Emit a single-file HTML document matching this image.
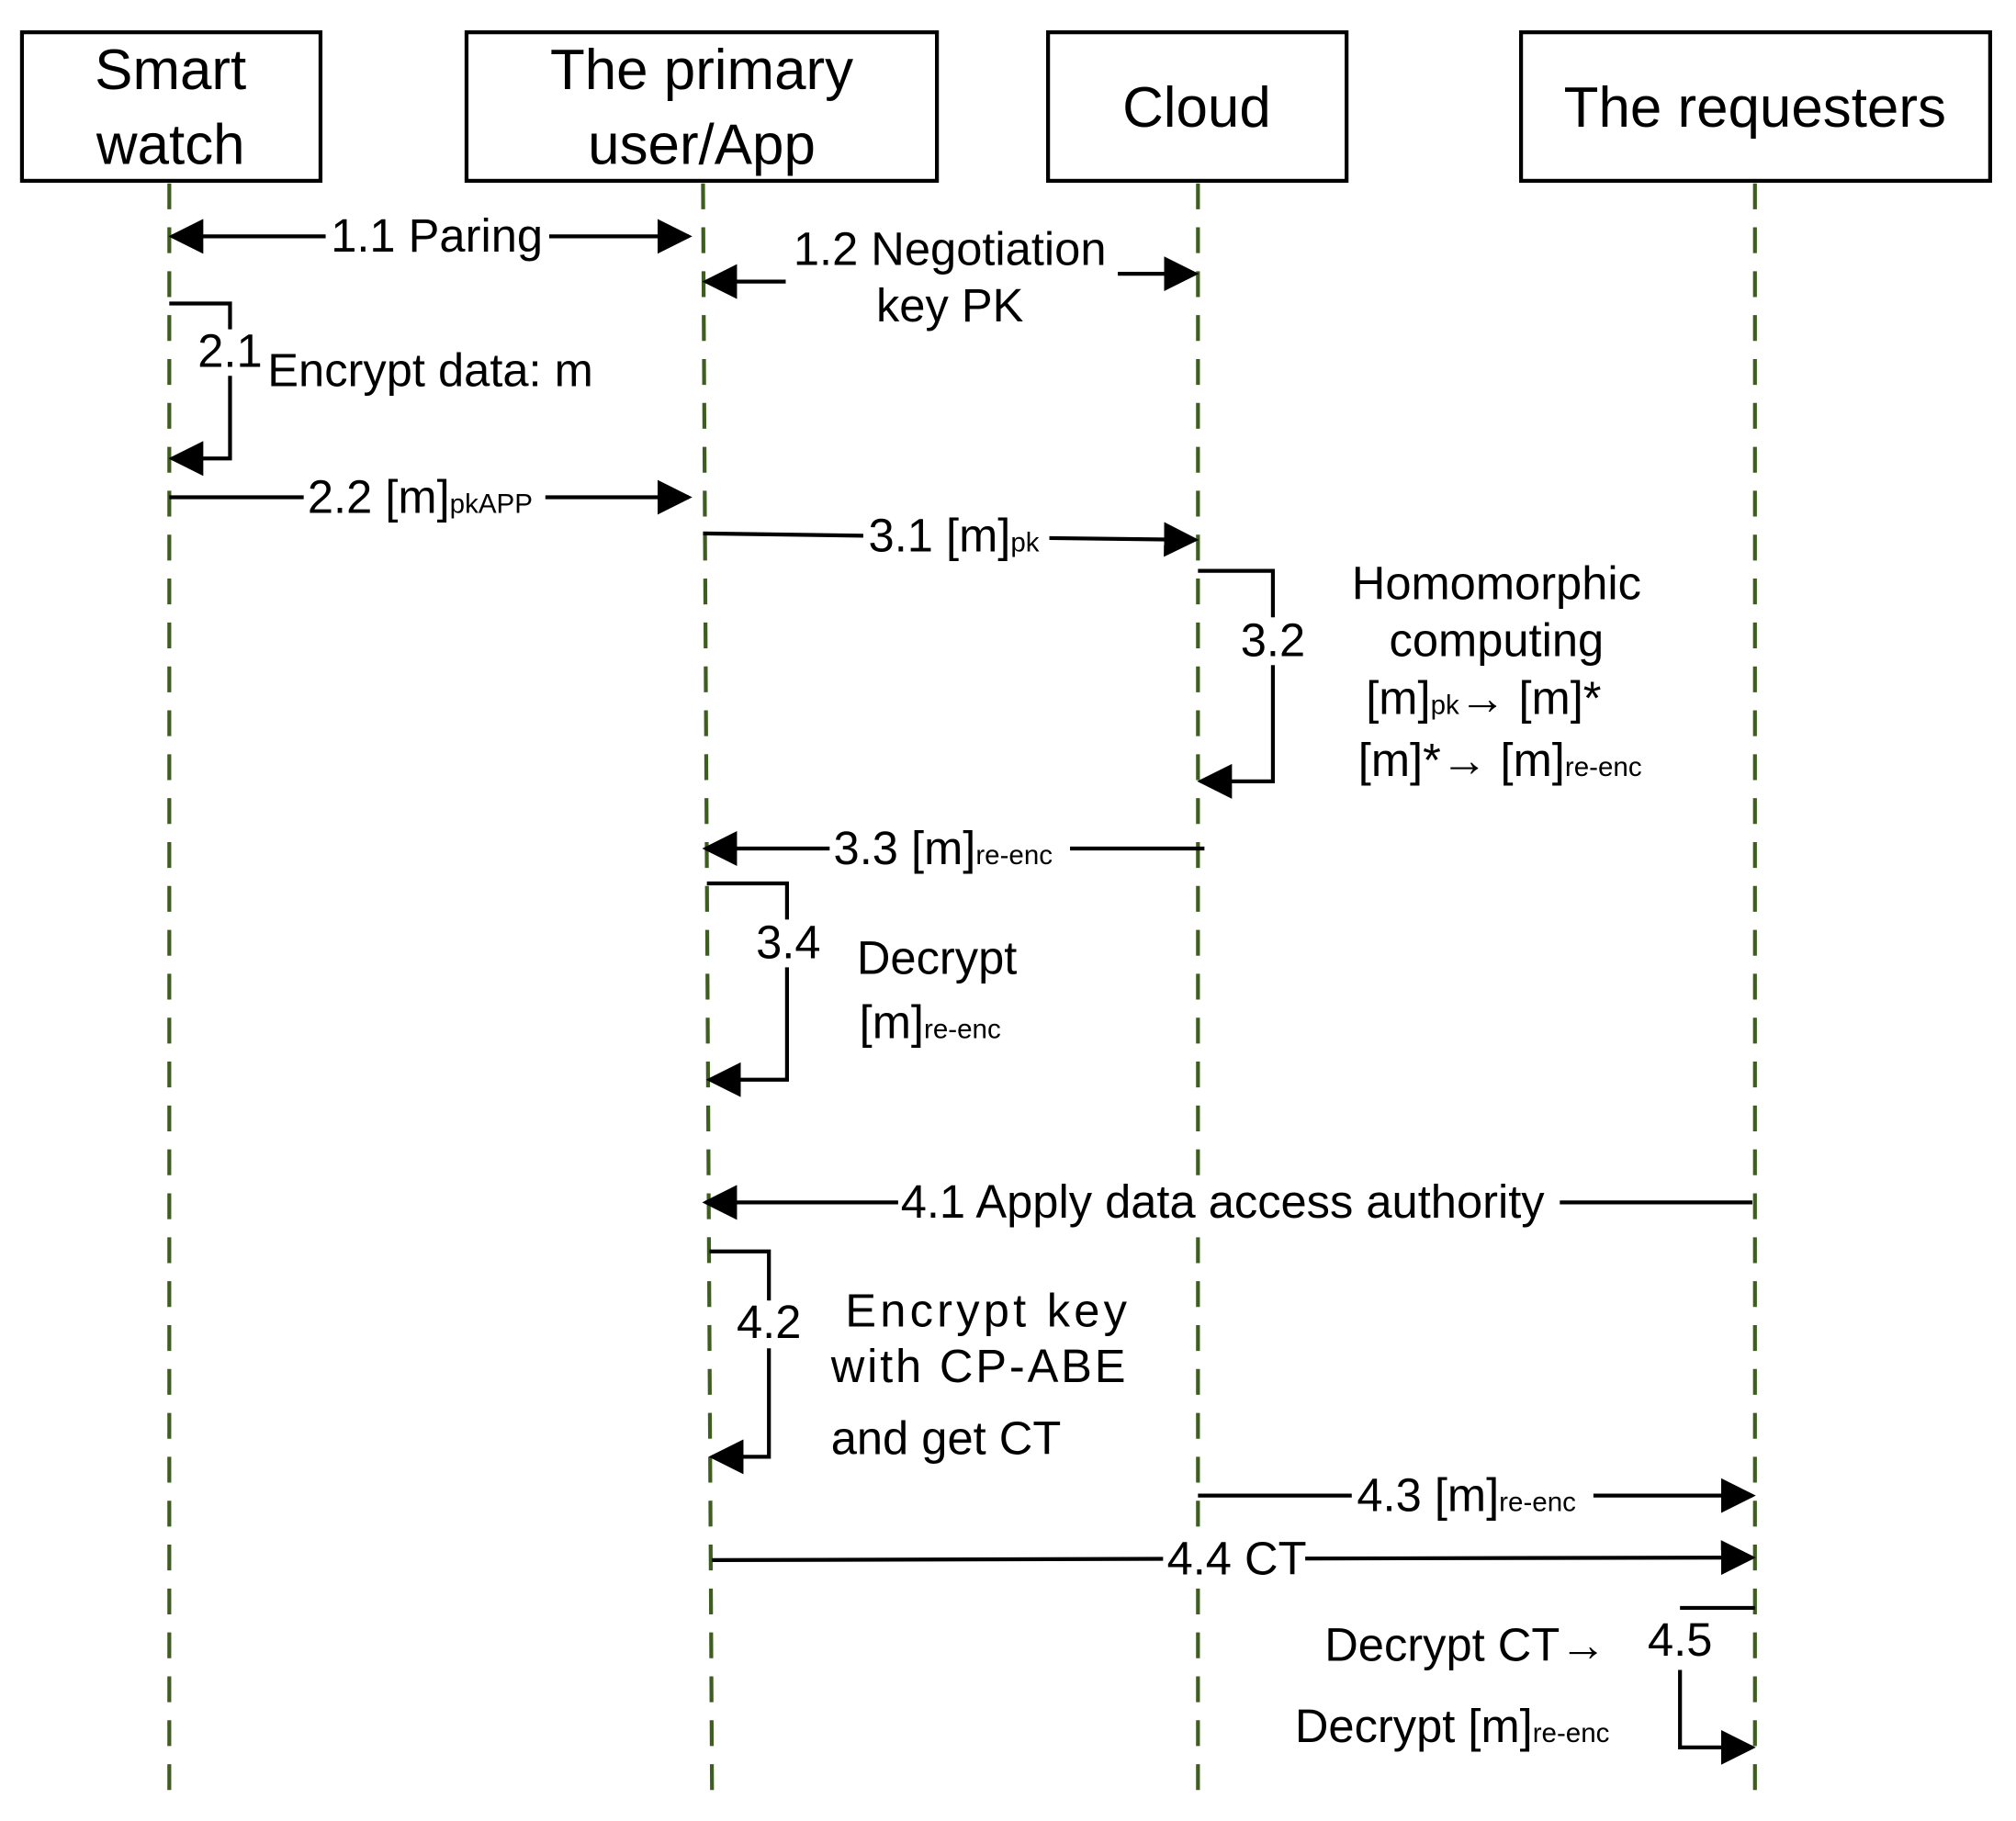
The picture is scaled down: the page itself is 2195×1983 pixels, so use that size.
<!DOCTYPE html>
<html><head><meta charset="utf-8"><style>
html,body{margin:0;padding:0;background:#fff}
svg{display:block}
text{font-family:"Liberation Sans",sans-serif;fill:#000}
</style></head><body>
<svg width="2195" height="1983" viewBox="0 0 1560 1410" preserveAspectRatio="none" xmlns="http://www.w3.org/2000/svg">
<defs>
<marker id="b" viewBox="0 0 10 10" refX="9" refY="5" markerWidth="9" markerHeight="9" orient="auto-start-reverse"><path d="M0,0 L10,5 L0,10 z" fill="#000"/></marker>
</defs>
<g fill="#fff" stroke="#000" stroke-width="3">
<rect x="17" y="25" width="231" height="115"/>
<rect x="361" y="25" width="364" height="115"/>
<rect x="811" y="25" width="231" height="115"/>
<rect x="1177" y="25" width="363" height="115"/>
</g>
<g font-size="44" text-anchor="middle">
<text x="132" y="69">Smart</text><text x="132" y="127">watch</text>
<text x="543" y="69">The primary</text><text x="543" y="127">user/App</text>
<text x="926" y="98">Cloud</text>
<text x="1358" y="98">The requesters</text>
</g>
<g stroke="#3d5e1f" stroke-width="3" stroke-dasharray="20 14" fill="none">
<line x1="131" y1="142" x2="131" y2="1392"/>
<path d="M544 142 L551 1392"/>
<line x1="927" y1="142" x2="927" y2="1392"/>
<line x1="1358" y1="142" x2="1358" y2="1392"/>
</g>
<g stroke="#000" stroke-width="3" fill="none">
<line x1="133" y1="183" x2="533" y2="183" marker-start="url(#b)" marker-end="url(#b)"/>
<line x1="546" y1="218" x2="608" y2="218" marker-start="url(#b)"/>
<line x1="865" y1="212" x2="925" y2="212" marker-end="url(#b)"/>
<polyline points="131,235 178,235 178,355 133,355" marker-end="url(#b)"/>
<line x1="131" y1="385" x2="533" y2="385" marker-end="url(#b)"/>
<polyline points="544,413 680,415 925,418" marker-end="url(#b)"/>
<polyline points="927,442 985,442 985,605 929,605" marker-end="url(#b)"/>
<line x1="932" y1="657" x2="546" y2="657" marker-end="url(#b)"/>
<polyline points="547,684 609,684 609,836 549,836" marker-end="url(#b)"/>
<line x1="1356" y1="931" x2="546" y2="931" marker-end="url(#b)"/>
<polyline points="549,969 595,969 595,1128 551,1128" marker-end="url(#b)"/>
<line x1="927" y1="1158" x2="1356" y2="1158" marker-end="url(#b)"/>
<polyline points="551,1208 900,1207 1356,1206" marker-end="url(#b)"/>
<line x1="1358" y1="1245" x2="1300" y2="1245"/>
<polyline points="1300,1293 1300,1353 1356,1353" marker-end="url(#b)"/>
</g>
<g fill="#fff">
<rect x="252" y="165" width="173" height="36"/>
<rect x="235" y="367" width="187" height="36"/>
<rect x="668" y="398" width="144" height="37"/>
<rect x="642" y="640" width="186" height="36"/>
<rect x="695" y="913" width="512" height="37"/>
<rect x="1046" y="1140" width="187" height="36"/>
<rect x="900" y="1190" width="110" height="36"/>
<rect x="152" y="255" width="52" height="36"/>
<rect x="955" y="478" width="60" height="37"/>
<rect x="582" y="712" width="58" height="37"/>
<rect x="567" y="1007" width="58" height="37"/>
</g>
<g font-size="36">
<text x="256" y="195">1.1 Paring</text>
<text x="238" y="397">2.2 [m]<tspan font-size="21">pkAPP</tspan></text>
<text x="672" y="427">3.1 [m]<tspan font-size="21">pk</tspan></text>
<text x="645" y="669">3.3 [m]<tspan font-size="21">re-enc</tspan></text>
<text x="697" y="943">4.1 Apply data access authority</text>
<text x="1050" y="1170">4.3 [m]<tspan font-size="21">re-enc</tspan></text>
<text x="903" y="1219">4.4 CT</text>
<text x="735" y="205" text-anchor="middle">1.2 Negotiation</text>
<text x="735" y="249" text-anchor="middle">key PK</text>
<text x="178" y="284" text-anchor="middle">2.1</text>
<text x="207" y="299">Encrypt data: m</text>
<text x="985" y="508" text-anchor="middle">3.2</text>
<text x="1158" y="464" text-anchor="middle">Homomorphic</text>
<text x="1158" y="508" text-anchor="middle">computing</text>
<text x="1057" y="553">[m]<tspan font-size="21">pk</tspan>→ [m]*</text>
<text x="1051" y="601">[m]*→ [m]<tspan font-size="21">re-enc</tspan></text>
<text x="610" y="742" text-anchor="middle">3.4</text>
<text x="663" y="754">Decrypt</text>
<text x="665" y="804">[m]<tspan font-size="21">re-enc</tspan></text>
<text x="595" y="1036" text-anchor="middle">4.2</text>
<text x="654" y="1027" letter-spacing="3">Encrypt key</text>
<text x="643" y="1070" letter-spacing="2">with CP-ABE</text>
<text x="643" y="1126">and get CT</text>
<text x="1300" y="1282" text-anchor="middle">4.5</text>
<text x="1025" y="1286">Decrypt CT→</text>
<text x="1002" y="1349">Decrypt [m]<tspan font-size="21">re-enc</tspan></text>
</g>
</svg>
</body></html>
